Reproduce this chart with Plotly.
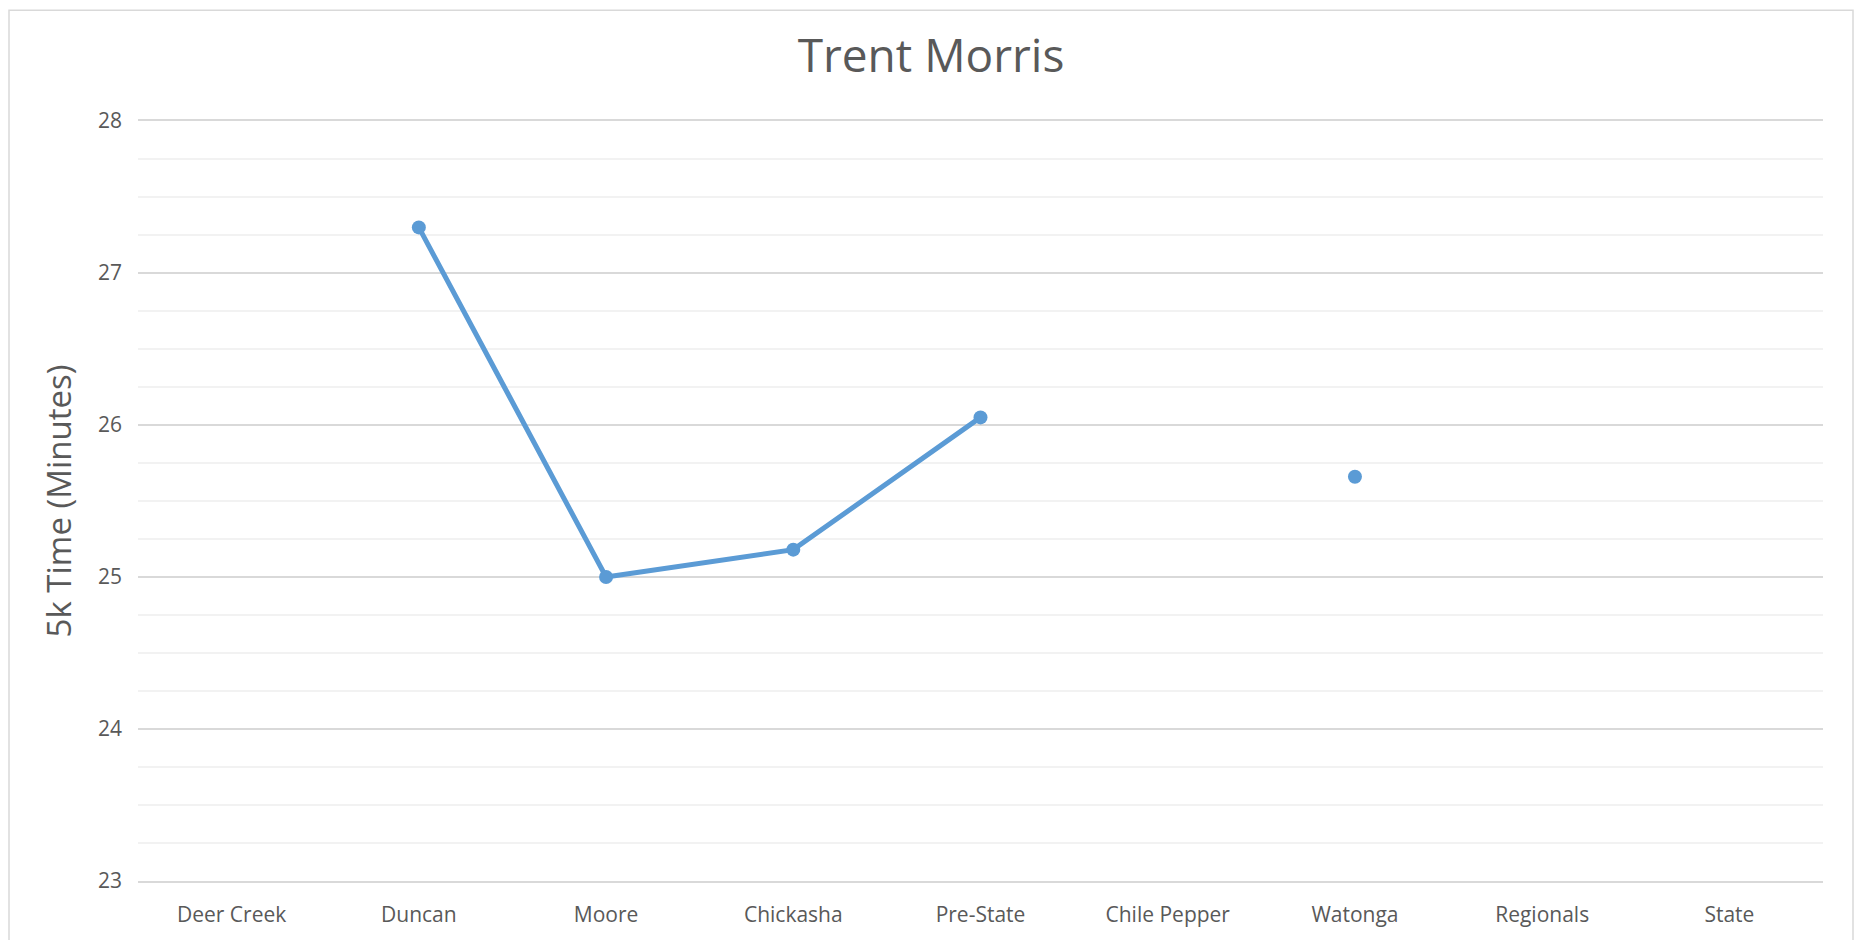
import plotly.graph_objects as go

meets = ['Deer Creek', 'Duncan', 'Moore', 'Chickasha', 'Pre-State',
         'Chile Pepper', 'Watonga', 'Regionals', 'State']
times = [None, 27.30, 25.00, 25.18, 26.05, None, 25.66, None, None]

# page body has an 8px margin, so the figure is a bit smaller than the window
W, H = 1846, 932
ml, mr, mt, mb = 130, 31, 113, 50
grey = '#595959'

fig = go.Figure()
fig.add_trace(go.Scatter(
    x=meets, y=times, mode='lines+markers',
    line=dict(color='#5B9BD5', width=5),
    marker=dict(color='#5B9BD5', size=14),
    connectgaps=False, showlegend=False, hoverinfo='x+y'))

pw = W - ml - mr
ph = H - mt - mb
# light border round the chart area (bottom edge falls off the page)
fig.add_shape(type='rect', xref='paper', yref='paper',
              x0=-(ml - 1) / pw, x1=(W - ml - 1) / pw,
              y0=-(mb + 20) / ph, y1=(H - mb - 1) / ph,
              line=dict(color='#D9D9D9', width=1.5), layer='below')

fig.update_layout(
    width=W, height=H,
    margin=dict(l=ml, r=mr, t=mt, b=mb, pad=0),
    paper_bgcolor='white', plot_bgcolor='white',
    font=dict(family='Open Sans, sans-serif', color=grey),
    title=dict(text='Trent Morris', x=0.5, xref='container', xanchor='center',
               y=1 - 48 / H, yanchor='middle',
               font=dict(size=46, color=grey)),
    xaxis=dict(type='category', categoryorder='array', categoryarray=meets,
               range=[-0.5, len(meets) - 0.5], showgrid=False,
               showline=True, mirror=True, linecolor='#D9D9D9', linewidth=2,
               zeroline=False, ticks='', ticklen=0, ticklabelstandoff=14,
               tickfont=dict(size=21, color=grey), fixedrange=True),
    yaxis=dict(range=[23, 28], dtick=1, tick0=23, showgrid=True,
               gridcolor='#D9D9D9', gridwidth=1.5, zeroline=False,
               showline=False, ticks='', ticklen=0, ticklabelstandoff=15,
               tickfont=dict(size=21, color=grey),
               title=dict(text='5k Time (Minutes)', standoff=16,
                          font=dict(size=33, color=grey)),
               minor=dict(dtick=0.25, tick0=23, showgrid=True,
                          gridcolor='#F2F2F2', gridwidth=1.5),
               fixedrange=True),
)

fig.write_html('out.html')
